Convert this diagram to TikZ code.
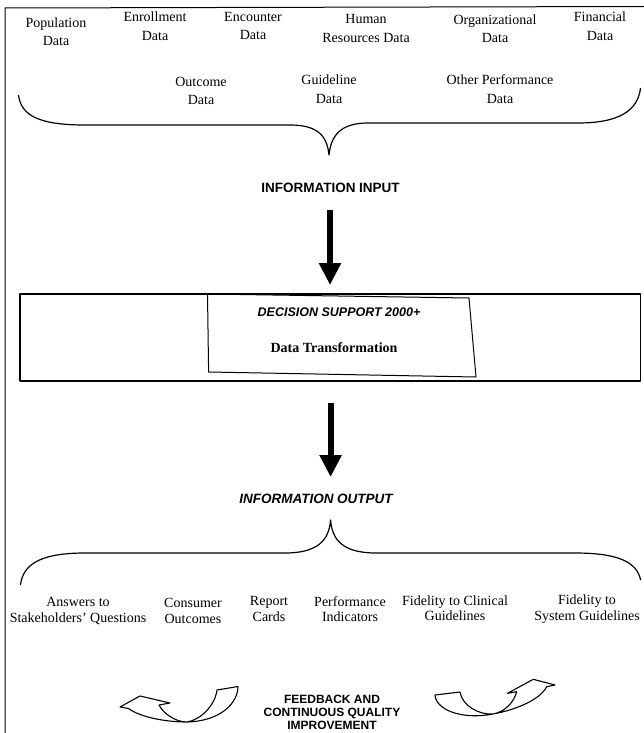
\documentclass[tikz,border=0pt]{standalone}
\usepackage{fontspec}
\setmainfont{Liberation Serif}
\setsansfont{Liberation Sans}
\usetikzlibrary{arrows.meta}
\begin{document}
\begin{tikzpicture}[x=1pt,y=-1pt,line join=round,
  lbl/.style={font=\fontsize{14}{18.5}\selectfont, align=center, inner sep=0pt},
  lblb/.style={font=\fontsize{14}{15.5}\selectfont, align=center, inner sep=0pt},
  head/.style={font=\sffamily\bfseries\fontsize{13.5}{15}\selectfont, inner sep=0pt},
  headi/.style={font=\sffamily\bfseries\itshape\fontsize{13.5}{15}\selectfont, inner sep=0pt},
  brace/.style={draw, line width=1.2pt},
  bigarrow/.style={line width=6pt, -{Triangle[width=21pt,length=22pt]}},
  fbarrow/.style={draw, line width=1.1pt},
  frame/.style={draw, line width=1pt}]
\useasboundingbox (0,0) rectangle (644,733);
% frame
\draw[frame] (644,6.5) -- (5,8) -- (5,733);
% top data labels
\node[lbl] (pop) at (56,31.5) {Population\\Data};
\node[lbl] (enr) at (155,26) {Enrollment\\Data};
\node[lbl] (enc) at (253,26) {Encounter\\Data};
\node[lbl] (hum) at (366,28.5) {Human\\Resources Data};
\node[lbl] (org) at (495,28.5) {Organizational\\Data};
\node[lbl] (fin) at (600,26) {Financial\\Data};
\node[lbl] (out) at (201,91) {Outcome\\Data};
\node[lbl] (gui) at (329,89) {Guideline\\Data};
\node[lbl] (oth) at (500,89) {Other Performance\\Data};
% top brace
\draw[brace] (18.5,95) .. controls (21,116) and (40,125) .. (85,125) -- (290,125)
  .. controls (318,125) and (327,136) .. (329,155)
  .. controls (331,136) and (340,123) .. (368,123) -- (578,123)
  .. controls (620,123) and (638,110) .. (640.5,88);
% information input
\node[head] (inp) at (330.5,188) {INFORMATION INPUT};
\coordinate (a1s) at (330,210);
\coordinate (a1e) at (330,285);
\draw[bigarrow] (a1s) -- (a1e);
% decision support box
\node[draw, line width=1.1pt, minimum width=620.6pt, minimum height=87pt, inner sep=0pt] (dss) at (330.3,337.5) {};
\draw[line width=1pt] (207.5,294) -- (469,298) -- (476,377) -- (208.6,372) -- cycle;
\node[headi, font=\sffamily\bfseries\itshape\fontsize{12.5}{14}\selectfont] (ds) at (339,312) {DECISION SUPPORT 2000+};
\node[lbl, font=\bfseries\fontsize{14}{16}\selectfont] (dt) at (334,348) {Data Transformation};
% arrow 2
\coordinate (a2s) at (330.6,403);
\coordinate (a2e) at (330.6,477);
\draw[bigarrow] (a2s) -- (a2e);
\node[headi] (outp) at (316,499) {INFORMATION OUTPUT};
% bottom brace
\draw[brace] (20.5,585) .. controls (23,562) and (45,553) .. (85,553) -- (285,553)
  .. controls (318,553) and (329,540) .. (330.6,520)
  .. controls (332,540) and (343,553) .. (376,553) -- (575,553)
  .. controls (618,553) and (637,562) .. (640.6,580);
% output labels
\node[lblb] (ans) at (78,611) {Answers to\\Stakeholders' Questions};
\node[lblb] (con) at (193,611) {Consumer\\Outcomes};
\node[lblb] (rep) at (269,609) {Report\\Cards};
\node[lblb] (per) at (350,609) {Performance\\Indicators};
\node[lblb] (fcl) at (455,608) {Fidelity to Clinical\\Guidelines};
\node[lblb] (fsy) at (587,609) {Fidelity to\\System Guidelines};
% feedback
\node[head, align=center, font=\sffamily\bfseries\fontsize{12}{13}\selectfont] (fb) at (332,712) {FEEDBACK AND\\CONTINUOUS QUALITY\\IMPROVEMENT};
% curved hollow arrows
\draw[fbarrow] (120,707) -- (140,696) -- (170,703) -- (159,705)
  .. controls (163,713) and (175,722) .. (187,722)
  .. controls (200,720) and (215,706) .. (217,690) -- (238,686.5)
  .. controls (238,702) and (222,721) .. (187,722)
  .. controls (165,722) and (140,717) .. (128.5,708.5) -- cycle;
\draw[fbarrow] (555,685) -- (533.3,679.3) -- (507.5,693.3) -- (516.7,691.7)
  .. controls (514,702) and (505,712) .. (493,714)
  .. controls (478,715) and (462,705) .. (460,692) -- (435,695)
  .. controls (436,710) and (462,720) .. (493,714)
  .. controls (515,710) and (540,700) .. (546.7,686.7) -- cycle;
\end{tikzpicture}
\end{document}
